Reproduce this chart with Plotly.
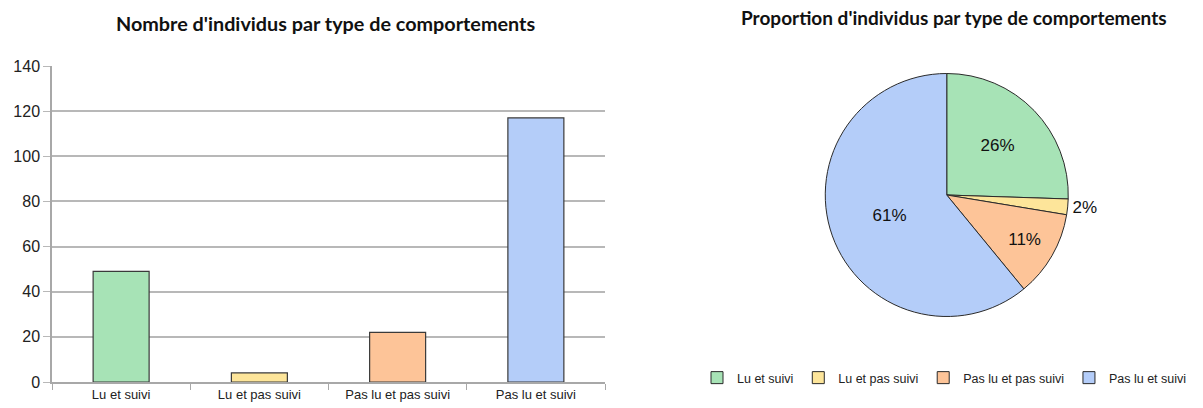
import plotly.graph_objects as go

categories = ["Lu et suivi", "Lu et pas suivi", "Pas lu et pas suivi", "Pas lu et suivi"]
counts = [49, 4, 22, 117]
colors = ["#a7e3b6", "#fde59a", "#fdc498", "#b4cdf9"]
y_ticks = [0, 20, 40, 60, 80, 100, 120, 140]
pie_textpos = ["inside", "outside", "inside", "inside"]

W, H = 1203, 408
fig = go.Figure()

fig.add_trace(go.Bar(
    x=categories, y=counts,
    marker=dict(color=colors, line=dict(color="#3a3a3a", width=1.2)),
    width=0.405, showlegend=False, xaxis="x", yaxis="y",
))

fig.add_trace(go.Pie(
    labels=categories, values=counts,
    marker=dict(colors=colors, line=dict(color="#2a2a2a", width=1)),
    sort=False, direction="clockwise", rotation=0,
    textinfo="percent", texttemplate="%{percent:.0%}",
    textposition=pie_textpos, insidetextorientation="horizontal",
    textfont=dict(family="Liberation Sans, Arial", size=17, color="#111111"),
    domain=dict(x=[0.65, 0.924], y=[1 - 316.5 / H, 1 - 73.5 / H]),
    showlegend=True, automargin=False,
))

fig.update_layout(
    width=W, height=H,
    margin=dict(l=0, r=0, t=0, b=0, autoexpand=False),
    paper_bgcolor="white", plot_bgcolor="white",
    font=dict(family="Liberation Sans, Arial", color="#222222"),
    xaxis=dict(
        domain=[52 / W, 605 / W], type="category",
        showline=True, linecolor="#a8a8a8", linewidth=1.5,
        ticks="outside", tickson="boundaries", ticklen=6, tickcolor="#a8a8a8",
        tickfont=dict(size=13, color="#222222"), showgrid=False,
    ),
    yaxis=dict(
        domain=[1 - 382 / H, 1 - 66 / H], range=[0, 140],
        tickvals=y_ticks, showline=True, linecolor="#a8a8a8", linewidth=1.5,
        ticks="outside", ticklen=7, tickcolor="#b8b8b8",
        gridcolor="#b8b8b8", gridwidth=1.5, zeroline=False,
        tickfont=dict(size=16, color="#222222"),
    ),
    legend=dict(
        orientation="h", xref="container", yref="container",
        x=697 / W, y=1 - 378 / H, xanchor="left", yanchor="middle",
        font=dict(size=12.5, color="#222222"), itemwidth=30, traceorder="normal",
    ),
    annotations=[
        dict(text="<b>Nombre d'individus par type de comportements</b>", x=325 / W, y=1 - 23 / H,
             xref="paper", yref="paper", showarrow=False, xanchor="center", yanchor="middle",
             font=dict(family="Lato", size=19.8, color="#111111")),
        dict(text="<b>Proportion d'individus par type de comportements</b>", x=954 / W, y=1 - 18 / H,
             xref="paper", yref="paper", showarrow=False, xanchor="center", yanchor="middle",
             font=dict(family="Lato", size=19, color="#111111")),
    ],
)

fig.write_html("out.html")
